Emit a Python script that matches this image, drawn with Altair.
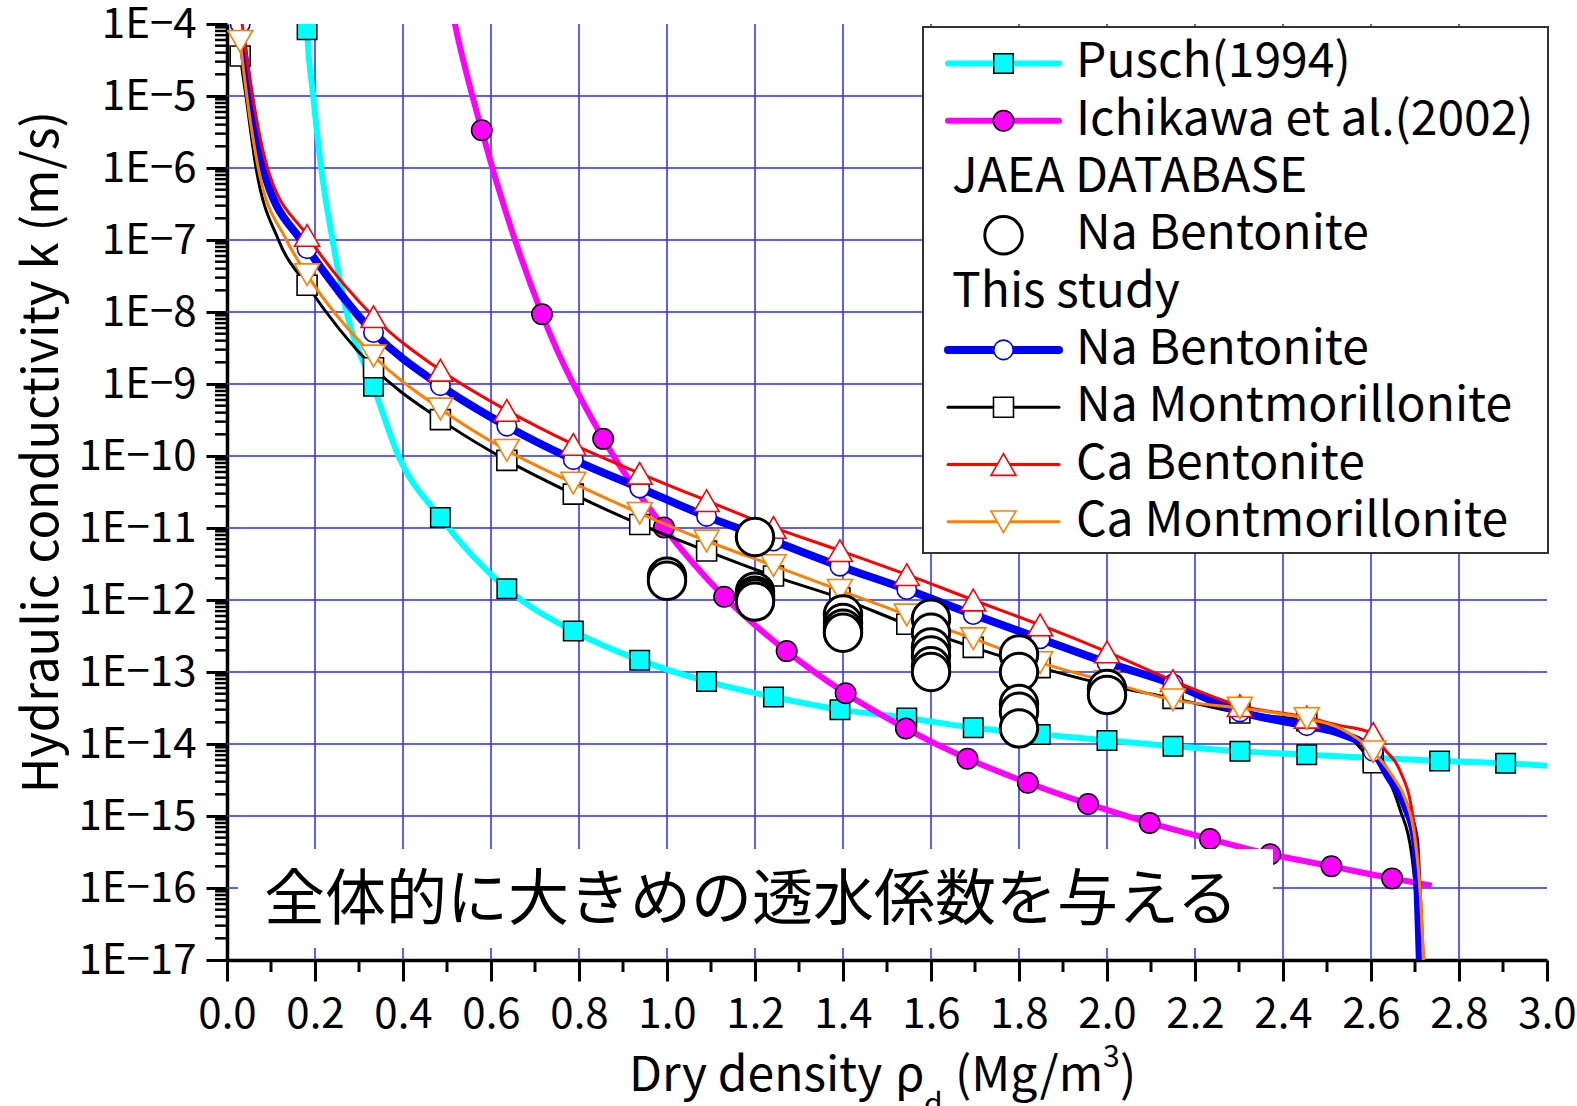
import altair as alt
import pandas as pd

# ---------------- data ----------------
# Dry density (Mg/m3) of the marked points on the model curves of this study
study_x = [0.03, 0.182, 0.333, 0.485, 0.636, 0.787, 0.938, 1.09, 1.242, 1.393,
           1.545, 1.696, 1.848, 2.0, 2.15, 2.302, 2.454, 2.605]

# Hydraulic conductivity k (m/s) at those points
na_bent_k = [1.0e-4, 7.6e-8, 5.2e-9, 9.5e-10, 2.6e-10, 8.9e-11, 3.6e-11, 1.45e-11, 6.6e-12,
             2.95e-12, 1.4e-12, 6.3e-13, 2.9e-13, 1.35e-13, 6.8e-14, 2.8e-14, 1.8e-14, 7.9e-15]
na_mont_k = [3.6e-5, 2.35e-8, 1.68e-9, 3.2e-10, 8.7e-11, 2.95e-11, 1.12e-11, 4.8e-12, 2.15e-12,
             1.07e-12, 4.6e-13, 2.2e-13, 1.15e-13, 6.6e-14, 4.3e-14, 2.7e-14, 2.1e-14, 5.5e-15]
ca_bent_k = [1.6e-4, 1.16e-7, 8.6e-9, 1.55e-9, 4.3e-10, 1.45e-10, 5.75e-11, 2.4e-11, 1.02e-11,
             4.85e-12, 2.25e-12, 1.0e-12, 4.5e-13, 1.9e-13, 7.6e-14, 3.4e-14, 2.35e-14, 1.4e-14]
ca_mont_k = [5.75e-5, 3.3e-8, 2.45e-9, 4.5e-10, 1.2e-10, 4.2e-11, 1.6e-11, 6.6e-12, 3.0e-12,
             1.36e-12, 6.2e-13, 2.9e-13, 1.35e-13, 7.4e-14, 4.1e-14, 3.15e-14, 2.25e-14, 7.8e-15]

# additional curve vertices: steep start at low density and the drop near 2.7 Mg/m3
na_bent_head_x = [0.052, 0.082, 0.168]
na_bent_head_k = [1e-5, 1e-6, 1e-7]
na_bent_tail_x = [2.53, 2.64, 2.677, 2.70, 2.711, 2.714]
na_bent_tail_k = [1.4e-14, 3.5e-15, 1.4e-15, 4.7e-16, 1.0e-17, 2.5e-18]

na_mont_head_x = [0.043, 0.066, 0.117]
na_mont_head_k = [1e-5, 1e-6, 1e-7]
na_mont_tail_x = [2.53, 2.64, 2.666, 2.692, 2.71, 2.713]
na_mont_tail_k = [1.6e-14, 3.2e-15, 1.23e-15, 3.0e-16, 1.0e-17, 2.5e-18]

ca_bent_head_x = [0.058, 0.092]
ca_bent_head_k = [1e-5, 1e-6]
ca_bent_tail_x = [2.53, 2.583, 2.632, 2.664, 2.695, 2.719, 2.722]
ca_bent_tail_k = [1.8e-14, 1.55e-14, 8.3e-15, 4.5e-15, 1.0e-15, 1.0e-17, 2.5e-18]

ca_mont_head_x = [0.045, 0.071, 0.135]
ca_mont_head_k = [1e-5, 1e-6, 1e-7]
ca_mont_tail_x = [2.53, 2.65, 2.678, 2.70, 2.719, 2.722]
ca_mont_tail_k = [1.65e-14, 3.5e-15, 1.7e-15, 4.7e-16, 1.0e-17, 2.5e-18]

# Pusch (1994)
pusch_x = [0.182, 0.333, 0.485, 0.636, 0.787, 0.938, 1.09, 1.242, 1.393, 1.545,
           1.696, 1.848, 2.0, 2.15, 2.302, 2.454, 2.605, 2.756, 2.906]
pusch_k = [8.3e-5, 9.3e-10, 1.4e-11, 1.43e-12, 3.7e-13, 1.46e-13, 7.4e-14, 4.5e-14, 3.0e-14,
           2.3e-14, 1.68e-14, 1.36e-14, 1.12e-14, 9.3e-15, 7.9e-15, 7.1e-15, 6.4e-15, 5.8e-15, 5.4e-15]
pusch_curve_x = [0.178, 0.196, 0.214, 0.240, 0.272, 0.39, 3.0]
pusch_curve_k = [3e-4, 1e-5, 1e-6, 1e-7, 1e-8, 1e-10, 5.0e-15]

# Ichikawa et al. (2002)
ichi_x = [0.579, 0.716, 0.855, 0.993, 1.130, 1.272, 1.406, 1.543, 1.683, 1.820,
          1.957, 2.097, 2.234, 2.371, 2.510, 2.648]
ichi_k = [3.35e-6, 9.3e-9, 1.73e-10, 1.02e-11, 1.11e-12, 1.95e-13, 5.06e-14, 1.64e-14,
          6.25e-15, 2.89e-15, 1.47e-15, 8.0e-16, 4.78e-16, 2.94e-16, 2.0e-16, 1.36e-16]
ichi_curve_x = [0.505, 0.517, 2.738]
ichi_curve_k = [2.5e-4, 1.07e-4, 1.08e-16]

# JAEA database, Na bentonite
jaea_x = [1.0, 1.0,
          1.2, 1.2, 1.2, 1.2, 1.2,
          1.4, 1.4, 1.4, 1.4,
          1.6, 1.6, 1.6, 1.6, 1.6, 1.6,
          1.8, 1.8, 1.8, 1.8, 1.8,
          2.0, 2.0]
jaea_k = [2.1e-12, 1.85e-12,
          7.5e-12, 1.3e-12, 1.15e-12, 1.05e-12, 9.5e-13,
          6.3e-13, 4.8e-13, 4.0e-13, 3.5e-13,
          5.5e-13, 3.5e-13, 2.2e-13, 1.7e-13, 1.2e-13, 1.0e-13,
          1.75e-13, 1.0e-13, 3.6e-14, 2.8e-14, 1.65e-14,
          5.8e-14, 4.8e-14]

legend_labels = ["Pusch(1994)", "Ichikawa et al.(2002)", "JAEA DATABASE", "Na Bentonite",
                 "This study", "Na Bentonite", "Na Montmorillonite", "Ca Bentonite",
                 "Ca Montmorillonite"]
note_text = "全体的に大きめの透水係数を与える"

# ---------------- layout / style ----------------
W, H = 1320, 936
FONT = "Noto Sans CJK JP"
GRID = "#2a2aff"

x_ticks = [round(0.2 * i, 1) for i in range(16)]
x_minor = [round(0.1 + 0.2 * i, 1) for i in range(15)]
y_ticks = [10.0 ** e for e in range(-17, -3)]
y_minor = [m * 10.0 ** e for e in range(-17, -4) for m in range(2, 10)]
grid_x = x_ticks[1:-1]
grid_y = y_ticks[1:-1]

xscale = alt.Scale(domain=[0, 3], nice=False, zero=False)
yscale = alt.Scale(type="log", domain=[1e-17, 1e-4], nice=False)

xaxis = alt.Axis(values=x_ticks, labelExpr="format(datum.value, '.1f')", title=None,
                 grid=False, tickSize=21, tickWidth=3, tickColor="black",
                 domainWidth=3.5, domainColor="black", labelFont=FONT, labelFontSize=42,
                 labelColor="black", labelPadding=13, labelFlush=False, labelOverlap=False)
yaxis = alt.Axis(values=y_ticks, labelExpr="'1E\u2212' + round(-log(datum.value) / LN10)",
                 title=None, grid=False, tickSize=21, tickWidth=3, tickColor="black",
                 domainWidth=3.5, domainColor="black", labelFont=FONT, labelFontSize=42,
                 labelColor="black", labelPadding=10, labelFlush=False, labelOverlap=False)

X = alt.X("x:Q", scale=xscale, axis=xaxis)
Y = alt.Y("k:Q", scale=yscale, axis=yaxis)
one = pd.DataFrame({"n": [0]})


def frame(xs, ks):
    return pd.DataFrame({"x": xs, "k": ks})


def curve(*pairs):
    xs, ks = [], []
    for px, pk in pairs:
        xs += list(px)
        ks += list(pk)
    return frame(xs, ks).sort_values("x")


def line_layer(df, color, width):
    return alt.Chart(df).mark_line(color=color, strokeWidth=width, interpolate="monotone",
                                   clip=True).encode(x=X, y=Y)


def point_layer(df, shape, size, fill, stroke, sw):
    return alt.Chart(df).mark_point(shape=shape, size=size, filled=True, fill=fill,
                                    stroke=stroke, strokeWidth=sw, opacity=1,
                                    clip=True).encode(x=X, y=Y)


layers = []
# grid
layers.append(alt.Chart(pd.DataFrame({"x": grid_x})).mark_rule(color=GRID, strokeWidth=1.5).encode(x=X))
layers.append(alt.Chart(pd.DataFrame({"k": grid_y})).mark_rule(color=GRID, strokeWidth=1.5).encode(y=Y))
# minor ticks
layers.append(alt.Chart(pd.DataFrame({"x": x_minor})).mark_rule(color="black", strokeWidth=3).encode(
    x=X, y=alt.value(H), y2=alt.value(H + 12)))
layers.append(alt.Chart(pd.DataFrame({"k": y_minor})).mark_rule(color="black", strokeWidth=2.5).encode(
    y=Y, x=alt.value(-12), x2=alt.value(0)))

# Pusch (1994)
layers.append(line_layer(curve((pusch_x, pusch_k), (pusch_curve_x, pusch_curve_k)), "#00ffff", 6))
layers.append(point_layer(frame(pusch_x, pusch_k), "square", 380, "#00ffff", "black", 1.5))
# Ichikawa et al. (2002)
layers.append(line_layer(curve((ichi_x, ichi_k), (ichi_curve_x, ichi_curve_k)), "#ff00ff", 6))
layers.append(point_layer(frame(ichi_x, ichi_k), "circle", 420, "#ff00ff", "black", 1.5))

# this study
study = [
    (na_mont_k, na_mont_head_x, na_mont_head_k, na_mont_tail_x, na_mont_tail_k, "black", 3, "square", 400),
    (na_bent_k, na_bent_head_x, na_bent_head_k, na_bent_tail_x, na_bent_tail_k, "#0000ff", 8, "circle", 380),
    (ca_bent_k, ca_bent_head_x, ca_bent_head_k, ca_bent_tail_x, ca_bent_tail_k, "#ff0000", 3, "triangle-up", 625),
    (ca_mont_k, ca_mont_head_x, ca_mont_head_k, ca_mont_tail_x, ca_mont_tail_k, "#ff8000", 3, "triangle-down", 625),
]
for ks, hx, hk, tx, tk, color, lw, shape, size in study:
    layers.append(line_layer(curve((study_x, ks), (hx, hk), (tx, tk)), color, lw))
    layers.append(point_layer(frame(study_x, ks), shape, size, "white", color, 1.6))

# JAEA database
layers.append(point_layer(frame(jaea_x, jaea_k), "circle", 1400, "white", "black", 3))

# note box
layers.append(alt.Chart(one).mark_rect(fill="white").encode(
    x=alt.value(11), x2=alt.value(1046), y=alt.value(825), y2=alt.value(924)))
layers.append(alt.Chart(one).mark_text(font=FONT, fontSize=61, align="center", baseline="middle",
                                       color="black").encode(
    x=alt.value(524), y=alt.value(878), text=alt.value(note_text)))

# legend
LX0, LX1, LXM, LXT, LXH = 721, 832, 776.5, 849, 725
LY0, LDY = 39.4, 57.3
layers.append(alt.Chart(one).mark_rect(fill="white", stroke="#333333", strokeWidth=2).encode(
    x=alt.value(696), x2=alt.value(1321), y=alt.value(3), y2=alt.value(529)))

legend_style = [
    ("series", "#00ffff", 6, "square", 380, "#00ffff", "black", 1.5),
    ("series", "#ff00ff", 6, "circle", 420, "#ff00ff", "black", 1.5),
    ("header",),
    ("marker", None, 0, "circle", 1400, "white", "black", 3),
    ("header",),
    ("series", "#0000ff", 8, "circle", 380, "white", "#0000ff", 1.6),
    ("series", "black", 3, "square", 400, "white", "black", 1.6),
    ("series", "#ff0000", 3, "triangle-up", 625, "white", "#ff0000", 1.6),
    ("series", "#ff8000", 3, "triangle-down", 625, "white", "#ff8000", 1.6),
]
for i, (label, st) in enumerate(zip(legend_labels, legend_style)):
    yy = LY0 + i * LDY
    if st[0] == "header":
        layers.append(alt.Chart(one).mark_text(font=FONT, fontSize=48, align="left", baseline="middle",
                                               color="black").encode(
            x=alt.value(LXH), y=alt.value(yy), text=alt.value(label)))
        continue
    kind, lcolor, lw, shape, size, fill, stroke, sw = st
    if kind == "series":
        layers.append(alt.Chart(one).mark_rule(color=lcolor, strokeWidth=lw, strokeCap="round").encode(
            x=alt.value(LX0), x2=alt.value(LX1), y=alt.value(yy)))
    layers.append(alt.Chart(one).mark_point(shape=shape, size=size, filled=True, fill=fill, stroke=stroke,
                                            strokeWidth=sw, opacity=1).encode(
        x=alt.value(LXM), y=alt.value(yy)))
    layers.append(alt.Chart(one).mark_text(font=FONT, fontSize=48, align="left", baseline="middle",
                                           color="black").encode(
        x=alt.value(LXT), y=alt.value(yy), text=alt.value(label)))

# axis titles
layers.append(alt.Chart(one).mark_text(font=FONT, fontSize=49, angle=270, align="center",
                                       baseline="middle", color="black").encode(
    x=alt.value(-184), y=alt.value(428), text=alt.value("Hydraulic conductivity k (m/s)")))
xtitle_parts = [
    ("Dry density", 402, 1067, 48),
    ("\u03c1", 668, 1067, 48),
    ("d", 697, 1090, 30),
    ("(Mg/m", 728, 1067, 48),
    ("3", 876, 1043, 30),
    (")", 893, 1067, 48),
]
for txt, px, py, fs in xtitle_parts:
    layers.append(alt.Chart(one).mark_text(font=FONT, fontSize=fs, align="left",
                                           baseline="alphabetic", color="black").encode(
        x=alt.value(px), y=alt.value(py), text=alt.value(txt)))

chart = alt.layer(*layers).properties(
    width=W, height=H,
    padding={"left": 227, "top": 24, "right": 30, "bottom": 146},
    autosize=alt.AutoSizeParams(type="none"),
    background="white",
).configure_view(stroke=None)

chart.save("out.html", embed_options={"renderer": "svg", "actions": False})
